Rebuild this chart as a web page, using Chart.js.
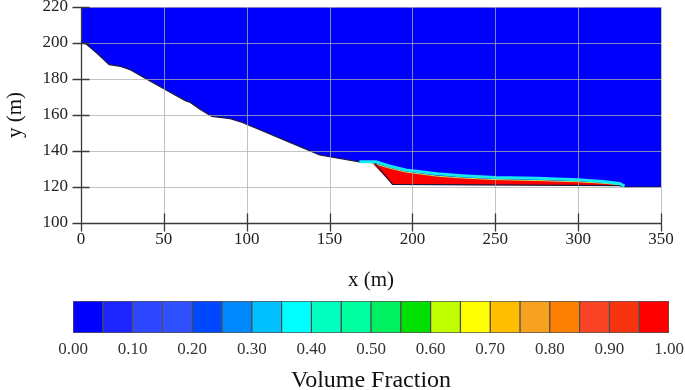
<!DOCTYPE html>
<html>
<head>
<meta charset="utf-8">
<script src="https://cdn.jsdelivr.net/npm/chart.js@4.4.1/dist/chart.umd.min.js"></script>
<style>
  html, body { margin: 0; padding: 0; background: #fff; overflow: hidden; }
  #main { position: absolute; left: 0; top: 0; width: 685px; height: 295px; }
  #barra { position: absolute; left: 0; top: 295px; width: 685px; height: 95px; }
</style>
</head>
<body>
<div id="main"><canvas id="grafico-perfil"></canvas></div>
<div id="barra"><canvas id="grafico-escala"></canvas></div>
<script>
// Perfil del terreno (x en m, y en m)
const terrenoX = [0, 3, 10, 17, 24, 30, 40, 50, 60, 63, 66, 72, 79, 90, 97, 110, 125, 144, 150, 168, 177, 188, 325, 328, 350];
const terrenoY = [200, 199.5, 194, 188, 187, 185, 179.8, 174.6, 169.5, 168, 167, 163, 159.2, 158, 156, 151, 145.2, 137.8, 136.8, 134, 133.5, 121.5, 120.8, 120, 120];

// Superficie del deslizamiento (capa cian)
const superficieX = [168, 178, 186, 196, 215, 230, 250, 275, 300, 315, 325, 328];
const superficieY = [134, 134, 131.7, 129.5, 127.3, 126.3, 125.3, 124.8, 124, 123, 122, 120.5];

// Masa deslizada (rojo), contorno cerrado
const masaX = [176, 186, 196, 215, 230, 250, 275, 300, 315, 325, 327, 325, 188, 176];
const masaY = [133.2, 130.5, 128.3, 126, 125, 124.1, 123.6, 122.9, 122.1, 121.3, 120.6, 120.8, 121.5, 133.2];

// Escala de colores (fracción de volumen)
const limitesFraccion = [0, 0.05, 0.10, 0.15, 0.20, 0.25, 0.30, 0.35, 0.40, 0.45, 0.50, 0.55, 0.60, 0.65, 0.70, 0.75, 0.80, 0.85, 0.90, 0.95, 1.00];
const coloresFraccion = ["#0000ff", "#1c24ff", "#2d46ff", "#3050ff", "#0048ff", "#0088ff", "#00c0ff", "#00ffff",
  "#00ffc0", "#00ffa0", "#00f060", "#00e000", "#c0ff00", "#ffff00", "#ffbf00", "#f8a020",
  "#ff8000", "#f84424", "#f83410", "#ff0000"];

const fuente = "'Liberation Serif', 'Times New Roman', serif";
Chart.defaults.font.family = fuente;
Chart.defaults.color = "#333";

function puntos(xs, ys) {
  return xs.map((x, i) => ({ x: x, y: ys[i] }));
}

// Rejilla y ejes dibujados encima de los rellenos
const rejillaArriba = {
  id: "rejillaArriba",
  afterDatasetsDraw(chart) {
    const { ctx, chartArea: a, scales: { x, y } } = chart;
    ctx.save();
    ctx.strokeStyle = "rgba(175,175,175,0.75)";
    ctx.lineWidth = 1;
    ctx.beginPath();
    x.ticks.forEach(t => {
      const px = Math.round(x.getPixelForValue(t.value)) + 0.5;
      ctx.moveTo(px, a.top);
      ctx.lineTo(px, a.bottom);
    });
    y.ticks.forEach(t => {
      const py = Math.round(y.getPixelForValue(t.value)) + 0.5;
      ctx.moveTo(a.left, py);
      ctx.lineTo(a.right, py);
    });
    ctx.stroke();

    ctx.strokeStyle = "#3a3a3a";
    ctx.lineWidth = 1.3;
    ctx.beginPath();
    const x0 = Math.round(a.left) + 0.5;
    const y0 = Math.round(a.bottom) + 0.5;
    ctx.moveTo(x0, a.top);
    ctx.lineTo(x0, y0);
    ctx.lineTo(a.right, y0);
    y.ticks.forEach(t => {
      const py = Math.round(y.getPixelForValue(t.value)) + 0.5;
      ctx.moveTo(x0 - 9, py);
      ctx.lineTo(x0 + 8, py);
    });
    x.ticks.forEach(t => {
      const px = Math.round(x.getPixelForValue(t.value)) + 0.5;
      ctx.moveTo(px, y0 - 10);
      ctx.lineTo(px, y0 + 8);
    });
    ctx.stroke();
    ctx.restore();
  }
};

new Chart(document.getElementById("grafico-perfil"), {
  type: "line",
  data: {
    datasets: [
      {
        data: puntos(superficieX, superficieY),
        borderColor: "#18e8f0",
        borderWidth: 3,
        fill: false,
        order: 1
      },
      {
        data: puntos(terrenoX, terrenoY),
        borderColor: "#1a1a40",
        borderWidth: 1.2,
        fill: false,
        order: 2
      },
      {
        data: puntos(masaX.slice(0, 11), masaY.slice(0, 11)),
        borderColor: "#a8f060",
        borderWidth: 1,
        fill: false,
        order: 3
      },
      {
        data: puntos(masaX, masaY),
        borderColor: "#ff0000",
        borderWidth: 0.5,
        backgroundColor: "#ff0000",
        fill: "shape",
        order: 4
      },
      {
        data: puntos(terrenoX, terrenoY),
        borderWidth: 0,
        borderColor: "rgba(0,0,0,0)",
        backgroundColor: "#0000ff",
        fill: "end",
        order: 5
      }
    ]
  },
  options: {
    responsive: true,
    maintainAspectRatio: false,
    animation: false,
    layout: { padding: { left: 0, top: 7, right: 24, bottom: 0 } },
    elements: { point: { radius: 0 }, line: { tension: 0 } },
    plugins: { legend: { display: false }, tooltip: { enabled: false } },
    scales: {
      x: {
        type: "linear",
        min: 0,
        max: 350,
        ticks: { stepSize: 50, padding: 6, font: { size: 17 }, color: "#222", maxRotation: 0 },
        grid: { display: false, drawTicks: false },
        border: { display: false },
        title: { display: true, text: "x (m)", font: { size: 21 }, color: "#111", padding: { top: 0, bottom: 2 } },
        afterFit: s => { s.height = 72; s.paddingLeft = 0; s.paddingRight = 0; }
      },
      y: {
        type: "linear",
        min: 100,
        max: 220,
        ticks: { stepSize: 20, padding: 13, font: { size: 17 }, color: "#222" },
        grid: { display: false, drawTicks: false },
        border: { display: false },
        title: { display: true, text: "y (m)", font: { size: 21 }, color: "#111", padding: { top: 3, bottom: 0 } },
        afterFit: s => { s.width = 81; s.paddingTop = 0; s.paddingBottom = 0; }
      }
    }
  },
  plugins: [rejillaArriba]
});

// Barra de colores: una barra flotante por intervalo
const conjuntosEscala = coloresFraccion.map((c, i) => ({
  data: [[limitesFraccion[i], limitesFraccion[i + 1]]],
  backgroundColor: c,
  borderColor: "rgba(30,30,30,0.75)",
  borderWidth: 1,
  borderSkipped: false,
  grouped: false,
  barPercentage: 1,
  categoryPercentage: 1
}));

new Chart(document.getElementById("grafico-escala"), {
  type: "bar",
  data: { labels: ["VF"], datasets: conjuntosEscala },
  options: {
    indexAxis: "y",
    responsive: true,
    maintainAspectRatio: false,
    animation: false,
    layout: { padding: { left: 73, top: 6, right: 16, bottom: 0 } },
    plugins: { legend: { display: false }, tooltip: { enabled: false } },
    scales: {
      x: {
        type: "linear",
        min: 0,
        max: 1,
        ticks: { stepSize: 0.1, padding: 6, font: { size: 17 }, color: "#333", maxRotation: 0,
          callback: v => v.toFixed(2) },
        grid: { display: false, drawTicks: false },
        border: { display: false },
        title: { display: true, text: "Volume Fraction", font: { size: 24, lineHeight: 0.8 }, color: "#111", padding: { top: 0, bottom: 0 } },
        afterFit: s => { s.height = 57; s.paddingLeft = 0; s.paddingRight = 0; }
      },
      y: { display: false }
    }
  }
});
</script>
</body>
</html>
